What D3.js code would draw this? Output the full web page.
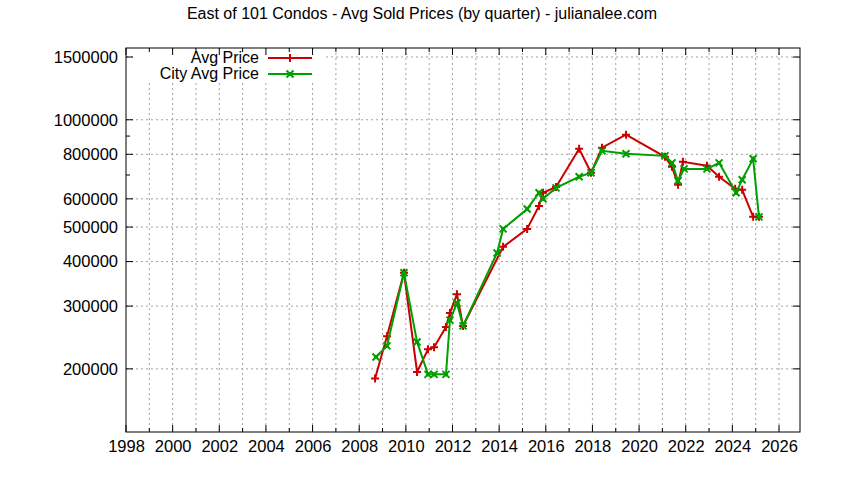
<!DOCTYPE html>
<html><head><meta charset="utf-8">
<script src="https://cdn.jsdelivr.net/npm/d3@7"></script>
<style>body{margin:0;background:#fff}text{font-family:"Liberation Sans",Arial,sans-serif}</style>
</head><body><svg id="c" width="844" height="480"></svg>
<script>
const title = "East of 101 Condos - Avg Sold Prices (by quarter) - julianalee.com";
const avgYears = [2008.68,2009.19,2009.92,2010.48,2010.95,2011.21,2011.72,2011.89,2012.19,2012.45,2014.17,2015.2,2015.71,2015.88,2016.44,2017.43,2017.94,2018.41,2019.44,2021.11,2021.41,2021.67,2021.88,2022.91,2023.43,2024.12,2024.42,2024.89,2025.14];
const avgPrice = [188000,247000,372000,196000,227000,230000,262000,287000,324000,264000,440000,494000,573000,624000,648000,829000,710000,835000,908000,787000,738000,657000,762000,743000,692000,640000,636000,534000,534000];
const cityYears = [2008.72,2009.19,2009.92,2010.48,2010.95,2011.21,2011.72,2011.89,2012.19,2012.45,2013.91,2014.17,2015.2,2015.71,2015.88,2016.44,2017.43,2017.94,2018.41,2019.44,2021.11,2021.41,2021.67,2021.93,2022.91,2023.43,2024.16,2024.42,2024.89,2025.14];
const cityPrice = [216000,232000,372000,238000,193000,193000,193000,274000,306000,264000,423000,494000,562000,624000,600000,644000,692000,710000,818000,803000,792000,757000,674000,728000,728000,757000,624000,679000,777000,534000];
const xTicks = d3.range(1998, 2027, 2);
const yTicks = [200000,300000,400000,500000,600000,800000,1000000,1500000];
const yMinor = [700000,900000];

const svg = d3.select("#c");
const L=126,R=800,T=48,B=432;
const x = d3.scaleLinear().domain([1998,2026.9]).range([L,R]);
const y = d3.scaleLog().domain([133000,1590000]).range([B,T]);

svg.append("text").attr("x",422).attr("y",19).attr("text-anchor","middle").attr("font-size",16).text(title);

const g = svg.append("g");
g.selectAll(".vg").data(d3.range(1999,2027)).join("line")
 .attr("x1",d=>x(d)).attr("x2",d=>x(d)).attr("y1",T).attr("y2",B)
 .attr("stroke","#a0a0a0").attr("stroke-dasharray","2,3");
g.selectAll(".hg").data(yTicks).join("line")
 .attr("x1",L).attr("x2",R).attr("y1",d=>y(d)).attr("y2",d=>y(d))
 .attr("stroke","#a0a0a0").attr("stroke-dasharray","2,3");
svg.append("rect").attr("x",L+8).attr("y",T+1).attr("width",190).attr("height",33).attr("fill","#fff");

const ax = svg.append("g").attr("transform",`translate(0,${B})`)
 .call(d3.axisBottom(x).tickValues(xTicks).tickFormat(d3.format("d")).tickSize(0).tickPadding(8));
const ay = svg.append("g").attr("transform",`translate(${L},0)`)
 .call(d3.axisLeft(y).tickValues(yTicks).tickFormat(d3.format("d")).tickSize(0).tickPadding(8));
[ax,ay].forEach(a=>{a.select(".domain").remove();a.selectAll("text").attr("font-size",16.5).attr("fill","#000").style("font-family","'Liberation Sans',Arial,sans-serif");});
svg.selectAll(".xt").data(d3.range(1998,2027)).join("g").each(function(d){
  const s=d3.select(this);
  s.append("line").attr("x1",x(d)).attr("x2",x(d)).attr("y1",B).attr("y2",B-(d%2?4:7)).attr("stroke","#000");
  s.append("line").attr("x1",x(d)).attr("x2",x(d)).attr("y1",T).attr("y2",T+(d%2?4:7)).attr("stroke","#000");
});
svg.selectAll(".yt").data(yTicks.concat(yMinor)).join("g").each(function(d){
  const s=d3.select(this), len=yMinor.includes(d)?4:7;
  s.append("line").attr("x1",L).attr("x2",L+len).attr("y1",y(d)).attr("y2",y(d)).attr("stroke","#000");
  s.append("line").attr("x1",R).attr("x2",R-len).attr("y1",y(d)).attr("y2",y(d)).attr("stroke","#000");
});
svg.append("rect").attr("x",L).attr("y",T).attr("width",R-L).attr("height",B-T).attr("fill","none").attr("stroke","#000");

const line = d3.line().x(d=>x(d[0])).y(d=>y(d[1]));
const red="#cc0000", green="#00a000";
const A = avgYears.map((d,i)=>[d,avgPrice[i]]);
const C = cityYears.map((d,i)=>[d,cityPrice[i]]);
function plus(s,px,py,c){s.append("path").attr("d",`M${px-4},${py}H${px+4}M${px},${py-4}V${py+4}`).attr("stroke",c).attr("stroke-width",2);}
function xm(s,px,py,c){s.append("path").attr("d",`M${px-3.5},${py-3.5}L${px+3.5},${py+3.5}M${px-3.5},${py+3.5}L${px+3.5},${py-3.5}`).attr("stroke",c).attr("stroke-width",2);
 s.append("rect").attr("x",px-2).attr("y",py-2).attr("width",4).attr("height",4).attr("fill",c);}
svg.append("path").datum(A).attr("d",line).attr("fill","none").attr("stroke",red).attr("stroke-width",2);
const ra=svg.append("g"); A.forEach(d=>plus(ra,x(d[0]),y(d[1]),red));
svg.append("path").datum(C).attr("d",line).attr("fill","none").attr("stroke",green).attr("stroke-width",2);
const ga=svg.append("g"); C.forEach(d=>xm(ga,x(d[0]),y(d[1]),green));

const lg=svg.append("g");
[["Avg Price",red,plus,58],["City Avg Price",green,xm,74]].forEach(([t,c,f,ly])=>{
  lg.append("text").attr("x",259).attr("y",ly+5).attr("text-anchor","end").attr("font-size",16).text(t);
  lg.append("line").attr("x1",268).attr("x2",312).attr("y1",ly).attr("y2",ly).attr("stroke",c).attr("stroke-width",2);
  f(lg,290,ly,c);
});
</script></body></html>
